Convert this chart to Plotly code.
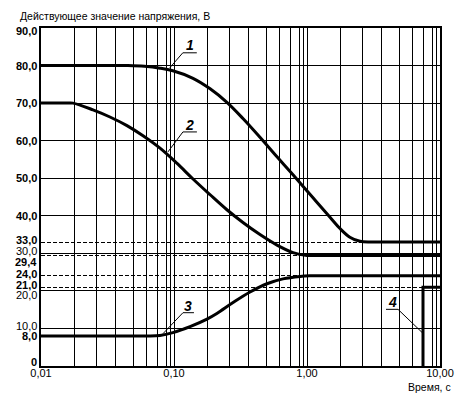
import math
import plotly.graph_objects as go

# ---------------- data ----------------
curve1_x = [0.01, 0.025, 0.045, 0.06, 0.0785, 0.098, 0.139, 0.187, 0.25, 0.33, 0.443, 0.595, 0.785,
            1.11, 1.49, 1.77, 2.10, 2.5, 3.0, 3.5, 10.0]
curve1_y = [80.0, 80.0, 80.0, 79.8, 79.3, 78.6, 76.6, 73.8, 70.2, 65.9, 60.9, 55.7, 50.9,
            44.8, 39.6, 36.6, 34.3, 33.2, 33.0, 33.0, 33.0]

curve2_x = [0.01, 0.0155, 0.0174, 0.0246, 0.033, 0.0443, 0.0585, 0.0785, 0.105, 0.139, 0.187, 0.25,
            0.33, 0.443, 0.595, 0.785, 1.0, 1.2, 10.0]
curve2_y = [70.0, 70.0, 70.0, 68.2, 66.3, 64.0, 61.3, 58.0, 54.0, 49.8, 45.6, 41.6,
            38.2, 35.0, 32.2, 30.2, 29.45, 29.4, 29.4]

curve3_x = [0.01, 0.04, 0.0627, 0.0785, 0.098, 0.132, 0.177, 0.21, 0.278, 0.373, 0.5, 0.66, 0.886,
            1.05, 1.3, 10.0]
curve3_y = [8.0, 8.0, 8.0, 8.15, 8.9, 10.5, 12.5, 14.0, 16.9, 19.7, 21.9, 23.2, 23.85,
            24.0, 24.0, 24.0]

curve4_x = [7.45, 7.45, 10.0]
curve4_y = [0.0, 21.0, 21.0]

# curve labels and the curve points their leaders touch
label_text = ["1", "2", "3", "4"]
label_x = [0.093, 0.090, 0.0826, 7.45]
label_y = [79.4, 57.0, 8.6, 8.7]

# axis ticks
x_ticks = [0.01, 0.1, 1.0, 10.0]
x_tick_text = ["0,01", "0,10", "1,00", "10,00"]
x_minor_mult = [1.78, 2.62, 3.64, 4.92, 6.24, 7.45, 8.71, 9.49]
x_minor = [m * d for d in (0.01, 0.1, 1.0) for m in x_minor_mult]

y_ticks = [0, 8, 10, 20, 21, 24, 29.4, 30, 33, 40, 50, 60, 70, 80, 90]
y_tick_text = ["0", "8,0", "10,0", "20,0", "21,0", "24,0", "29,4", "30,0", "33,0",
               "40,0", "50,0", "60,0", "70,0", "80,0", "90,0"]
y_grid = [0, 10, 20, 30, 40, 50, 60, 70, 80, 90]
y_dashed = [21, 24, 29.4, 33]

# ---------------- style ----------------
FONT = "Liberation Sans, Arial, sans-serif"
y_label_shift = [4, -0.5, 2.5, -4.5, 2.5, 1.5, -6, 2, 2, 0, 0, 0, 0, 0, -3]
y_label_bold = [True, True, False, False, True, True, True, False, True, True, True, True, True, True, True]
# leader geometry in pixels: (dx, dy) end of leader, far end of underline u, text centre (tx, ty)
leader = [
    (13, 15, 27, 20, 23),
    (15, 20, 29, 22, 27),
    (20, 21, 31, 25, 28),
    (-25, 24, -37, -31, 31),
]

fig = go.Figure()
for xs, ys in [(curve1_x, curve1_y), (curve2_x, curve2_y), (curve3_x, curve3_y)]:
    fig.add_trace(go.Scatter(x=xs, y=ys, mode="lines",
                             line=dict(color="black", width=3, shape="spline", smoothing=1.0),
                             hoverinfo="skip", showlegend=False))
fig.add_trace(go.Scatter(x=curve4_x, y=curve4_y, mode="lines",
                         line=dict(color="black", width=3), hoverinfo="skip", showlegend=False))

shapes = []
annotations = []
for txt, cx, cy, (dx, dy, u, tx, ty) in zip(label_text, label_x, label_y, leader):
    shapes.append(dict(type="path", xref="x", yref="y", xsizemode="pixel", ysizemode="pixel",
                       xanchor=cx, yanchor=cy, path="M0,0 L%d,%d L%d,%d" % (dx, dy, u, dy),
                       layer="above", fillcolor="rgba(0,0,0,0)",
                       line=dict(color="black", width=1)))
    annotations.append(dict(x=math.log10(cx), y=cy, xref="x", yref="y", text="<b><i>%s</i></b>" % txt,
                            showarrow=False, xshift=tx, yshift=ty, xanchor="center", yanchor="middle",
                            font=dict(family=FONT, size=14, color="black")))

for v, t, s, b in zip(y_ticks, y_tick_text, y_label_shift, y_label_bold):
    annotations.append(dict(x=0, y=v, xref="paper", yref="y",
                            text=("<b>%s</b>" % t) if b else t,
                            showarrow=False, xanchor="right", yanchor="middle", xshift=-2, yshift=s,
                            font=dict(family=FONT, size=11, color="black")))

annotations.append(dict(x=0, y=1, xref="paper", yref="paper", text="Действующее значение напряжения, В",
                        showarrow=False, xanchor="left", yanchor="middle", xshift=-23, yshift=12,
                        font=dict(family=FONT, size=10.5, color="black")))
annotations.append(dict(x=1, y=0, xref="paper", yref="paper", text="Время, с",
                        showarrow=False, xanchor="right", yanchor="middle", xshift=13, yshift=-21,
                        font=dict(family=FONT, size=10.5, color="black")))

fig.update_layout(
    width=462, height=398,
    margin=dict(l=41, r=22, t=28, b=32),
    paper_bgcolor="white", plot_bgcolor="white",
    showlegend=False,
    shapes=shapes, annotations=annotations,
    xaxis=dict(type="log", range=[-2, 1], tickmode="array", tickvals=x_ticks, ticktext=x_tick_text,
               showgrid=True, gridcolor="black", gridwidth=1, ticks="", zeroline=False,
               showline=True, linecolor="black", linewidth=1.5, mirror=True, automargin=False,
               ticklabelstandoff=-4,
               tickfont=dict(family=FONT, size=11, color="black"),
               minor=dict(tickmode="array", tickvals=x_minor, showgrid=True, gridcolor="black",
                          gridwidth=1, ticks="")),
    yaxis=dict(range=[0, 90], tickmode="array", tickvals=y_grid,
               showticklabels=False, showgrid=True, gridcolor="black", gridwidth=1, ticks="",
               zeroline=False, showline=True, linecolor="black", linewidth=1.5, mirror=True,
               automargin=False,
               minor=dict(tickmode="array", tickvals=y_dashed, showgrid=True, gridcolor="black",
                          gridwidth=1, griddash="4px,2px", ticks="")),
)

fig.write_html("out.html", config={"displayModeBar": False},
               post_script="document.body.style.margin='0px';")
